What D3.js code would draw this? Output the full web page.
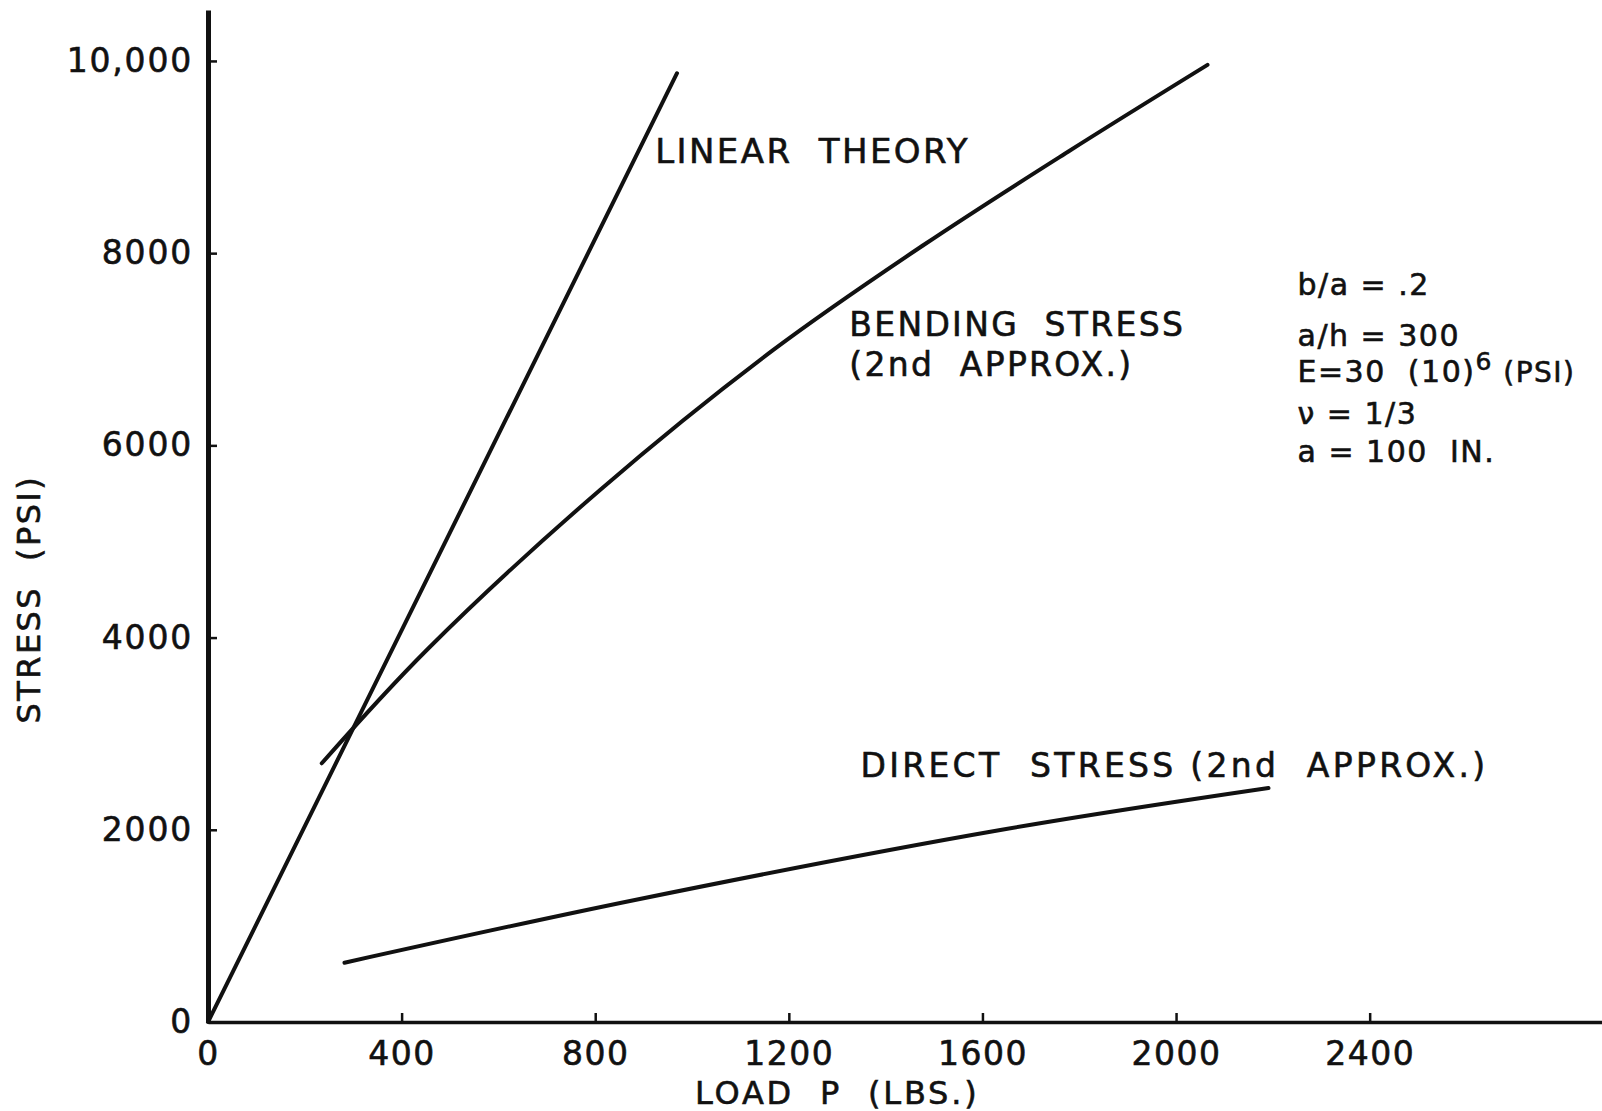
<!DOCTYPE html>
<html>
<head>
<meta charset="utf-8">
<script src="https://cdn.jsdelivr.net/npm/d3@7"></script>
<style>
  body { margin: 0; background: #fff; }
  svg text { font-family: "DejaVu Sans", sans-serif; fill: #111; white-space: pre; stroke: #111; stroke-width: 0.6px; }
</style>
</head>
<body>
<div id="chart"></div>
<script>
const width = 1602;
const height = 1111;

// values (load in lbs, stress in psi)
const linearLoad = [0, 969];
const linearStress = [0, 9872];

const bendingLoad = [235, 452, 810, 1168, 1480, 1776, 2065];
const bendingStress = [2692, 3871, 5536, 6993, 8090, 9053, 9959];

const directLoad = [282, 882, 1637, 2191];
const directStress = [617, 1270, 1998, 2435];

const xTicks = [0, 400, 800, 1200, 1600, 2000, 2400];
const xTickLabels = ["0", "400", "800", "1200", "1600", "2000", "2400"];
const yTicks = [0, 2000, 4000, 6000, 8000, 10000];
const yTickLabels = ["0", "2000", "4000", "6000", "8000", "10,000"];

const params = ["b/a = .2", "a/h = 300", "E=30  (10)", "\u03bd = 1/3", "a = 100  IN."];

const svg = d3.select("#chart").append("svg")
  .attr("width", width)
  .attr("height", height)

const x = d3.scaleLinear().domain([0, 2880]).range([208, 1602]);
const y = d3.scaleLinear().domain([0, 10530]).range([1022, 10]);

// axes, ticks pointing into the plot
const xAxis = svg.append("g")
  .attr("transform", `translate(0,${y(0)})`)
  .call(d3.axisBottom(x)
    .tickValues(xTicks)
    .tickFormat((d, i) => xTickLabels[i])
    .tickSizeInner(-9)
    .tickSizeOuter(0)
    .tickPadding(18))
xAxis.select(".domain").attr("stroke", "#111").attr("stroke-width", 3.5)
xAxis.selectAll(".tick line").attr("stroke", "#111").attr("stroke-width", 2.5)
xAxis.selectAll(".tick text").attr("font-size", 33).attr("fill", "#111")
  .style("letter-spacing", "1.5px")
  .attr("dy", "0.75em")
xAxis.selectAll(".tick").filter(d => d === 0).select("line").remove()

const yAxis = svg.append("g")
  .attr("transform", `translate(${x(0)},0)`)
  .call(d3.axisLeft(y)
    .tickValues(yTicks)
    .tickFormat((d, i) => yTickLabels[i])
    .tickSizeInner(-9)
    .tickSizeOuter(0)
    .tickPadding(15))
yAxis.select(".domain").attr("stroke", "#111").attr("stroke-width", 5)
yAxis.selectAll(".tick line").attr("stroke", "#111").attr("stroke-width", 2.5)
yAxis.selectAll(".tick text").attr("font-size", 33).attr("fill", "#111")
  .style("letter-spacing", "1.8px")
yAxis.selectAll(".tick").filter(d => d === 0).select("line").remove()

// axis titles
svg.append("text")
  .attr("x", x(1300))
  .attr("y", 1104)
  .attr("text-anchor", "middle")
  .attr("font-size", 32)
  .style("letter-spacing", "2.8px")
  .text("LOAD  P  (LBS.)")

svg.append("text")
  .attr("transform", `translate(40,${y(4400)}) rotate(-90)`)
  .attr("text-anchor", "middle")
  .attr("font-size", 32)
  .style("letter-spacing", "2.4px")
  .text("STRESS  (PSI)")

// curves
const toPoints = (xs, ys) => xs.map((v, i) => [v, ys[i]]);

const line = d3.line()
  .x(d => x(d[0]))
  .y(d => y(d[1]))
  .curve(d3.curveCatmullRom.alpha(0.5))

const series = [
  toPoints(linearLoad, linearStress),
  toPoints(bendingLoad, bendingStress),
  toPoints(directLoad, directStress)
];

svg.selectAll(".curve")
  .data(series)
  .enter().append("path")
  .attr("class", "curve")
  .attr("d", line)
  .attr("fill", "none")
  .attr("stroke", "#111")
  .attr("stroke-width", 4)
  .attr("stroke-linecap", "round")

// curve labels
svg.append("text")
  .attr("x", x(924)).attr("y", y(8939))
  .attr("font-size", 34)
  .style("letter-spacing", "2.4px")
  .text("LINEAR  THEORY")

svg.append("text")
  .attr("x", x(1325)).attr("y", y(7139))
  .attr("font-size", 33)
  .style("letter-spacing", "2.3px")
  .text("BENDING  STRESS")

svg.append("text")
  .attr("x", x(1325)).attr("y", y(6722))
  .attr("font-size", 33)
  .style("letter-spacing", "2.3px")
  .text("(2nd  APPROX.)")

svg.append("text")
  .attr("x", x(1348)).attr("y", y(2549))
  .attr("font-size", 33)
  .style("letter-spacing", "3.3px")
  .text("DIRECT  STRESS (2nd  APPROX.)")

// parameter block
const paramY = [7560, 7034, 6660, 6223, 5827];
const paramText = svg.selectAll(".param")
  .data(params)
  .enter().append("text")
  .attr("class", "param")
  .attr("x", x(2251))
  .attr("y", (d, i) => y(paramY[i]))
  .attr("font-size", 30)
  .style("letter-spacing", "1.5px")
  .text(d => d)

// superscript and units on the E line
paramText.filter((d, i) => i === 2)
  .append("tspan")
  .attr("dy", -12)
  .attr("font-size", 25)
  .text("6")
paramText.filter((d, i) => i === 2)
  .append("tspan")
  .attr("dy", 12)
  .attr("font-size", 28)
  .text(" (PSI)")
</script>
</body>
</html>
